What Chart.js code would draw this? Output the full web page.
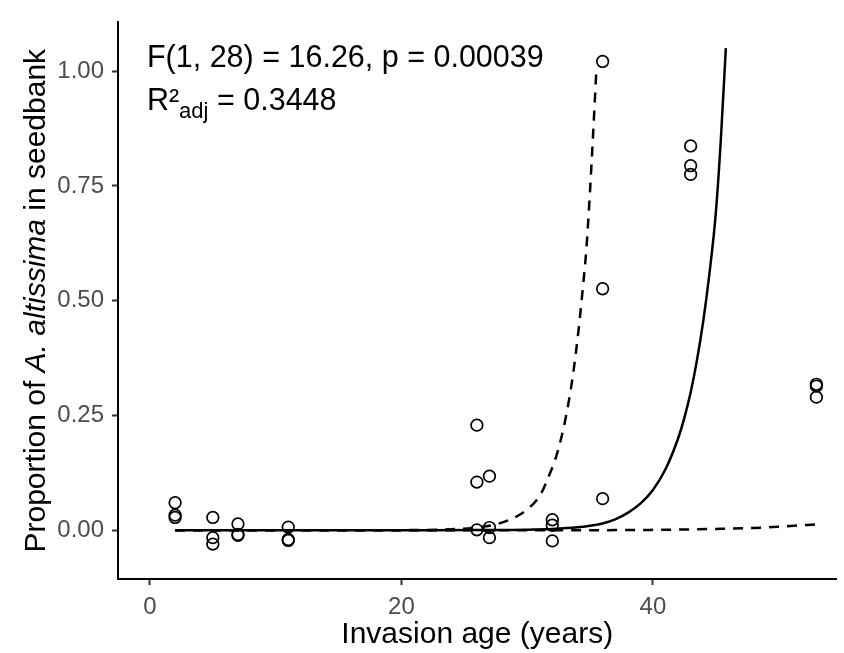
<!DOCTYPE html>
<html>
<head>
<meta charset="utf-8">
<script src="https://cdn.jsdelivr.net/npm/chart.js@4.4.1/dist/chart.umd.min.js"></script>
<style>
  body { margin: 0; background: #fff; }
</style>
</head>
<body>
<canvas id="chart" width="844" height="653"></canvas>
<script>
// observed seedbank proportions (3 plots per site age)
const ageX = [2, 2, 2, 5, 5, 5, 7, 7, 7, 11, 11, 11, 26, 26, 26, 27, 27, 27, 32, 32, 32, 36, 36, 36, 43, 43, 43, 53, 53, 53];
const propY = [0.060, 0.033, 0.028, 0.028, -0.016, -0.030, 0.014, -0.009, -0.011, 0.007, -0.020, -0.022,
               0.229, 0.105, 0.001, 0.118, 0.006, -0.016, 0.023, 0.011, -0.023, 1.021, 0.526, 0.069,
               0.837, 0.794, 0.775, 0.318, 0.314, 0.290];

// fitted curve
const fitX = [2, 10, 20, 26, 30, 32, 34, 35, 36, 37, 38, 39, 40, 41, 42, 42.5, 43, 43.5, 44, 44.5, 45, 45.4, 45.8];
const fitY = [0, 0, 0.0003, 0.0006, 0.0015, 0.003, 0.0065, 0.01, 0.015, 0.024, 0.038, 0.058, 0.088, 0.133, 0.2,
              0.245, 0.3, 0.37, 0.455, 0.56, 0.69, 0.85, 1.05];

// upper / lower bounds (dashed)
const upperX = [2, 10, 20, 24, 26, 27.5, 28.5, 29.4, 30.1, 30.7, 31.2, 31.6, 32.3, 32.7, 33.1, 33.6, 34.1, 34.4, 34.7, 35.0, 35.2, 35.5];
const upperY = [0, 0, 0.0004, 0.0025, 0.006, 0.013, 0.022, 0.034, 0.048, 0.064, 0.085, 0.11, 0.16, 0.2, 0.25, 0.33,
                0.44, 0.52, 0.61, 0.74, 0.84, 1.0];
const lowerX = [2, 30, 40, 45, 48, 50, 53];
const lowerY = [0, 0, 0.001, 0.003, 0.005, 0.008, 0.013];

const xTicks = [0, 20, 40];
const yTicks = [0, 0.25, 0.5, 0.75, 1];
const yTickLabels = ["0.00", "0.25", "0.50", "0.75", "1.00"];

const statLine = "F(1, 28) = 16.26, p = 0.00039";
const r2Value = " = 0.3448";
const xTitle = "Invasion age (years)";
const yTitleParts = [["Proportion of ", false], ["A. altissima", true], [" in seedbank", false]];

const FONT = '"Liberation Sans", Arial, Helvetica, sans-serif';

function toPoints(xs, ys) {
    return xs.map((x, i) => ({ x: x, y: ys[i] }));
}

// text that chart.js can't do by itself (sub/superscript, mixed italic)
const textPlugin = {
    id: 'labels',
    afterDraw(chart) {
        const ctx = chart.ctx;
        const area = chart.chartArea;
        const left = chart.scales.x.getPixelForValue(0) - 3;

        ctx.save();
        ctx.fillStyle = '#000';
        ctx.textAlign = 'left';
        ctx.textBaseline = 'alphabetic';

        ctx.font = `30.5px ${FONT}`;
        ctx.fillText(statLine, left, 67);
        ctx.fillText('R²', left, 110);
        let w = ctx.measureText('R²').width;
        ctx.font = `22px ${FONT}`;
        ctx.fillText('adj', left + w, 118);
        w += ctx.measureText('adj').width;
        ctx.font = `30.5px ${FONT}`;
        ctx.fillText(r2Value, left + w, 110);

        // x title
        ctx.font = `30px ${FONT}`;
        ctx.textAlign = 'center';
        ctx.fillText(xTitle, (area.left + area.right) / 2, 643);

        // y title, rotated
        ctx.textAlign = 'left';
        let total = 0;
        yTitleParts.forEach(p => {
            ctx.font = `${p[1] ? 'italic ' : ''}30px ${FONT}`;
            total += ctx.measureText(p[0]).width;
        });
        ctx.translate(45, (area.top + area.bottom) / 2);
        ctx.rotate(-Math.PI / 2);
        let x = -total / 2;
        yTitleParts.forEach(p => {
            ctx.font = `${p[1] ? 'italic ' : ''}30px ${FONT}`;
            ctx.fillText(p[0], x, 0);
            x += ctx.measureText(p[0]).width;
        });
        ctx.restore();
    }
};

const lineStyle = {
    showLine: true,
    borderColor: '#000',
    borderWidth: 2.5,
    pointRadius: 0,
    cubicInterpolationMode: 'monotone',
    fill: false
};

new Chart(document.getElementById('chart'), {
    type: 'scatter',
    data: {
        datasets: [
            {
                label: 'observed',
                data: toPoints(ageX, propY),
                pointRadius: 5.8,
                pointBorderWidth: 1.7,
                borderColor: '#000',
                backgroundColor: 'rgba(0,0,0,0)',
                order: 0
            },
            Object.assign({ label: 'fit', data: toPoints(fitX, fitY), order: 1 }, lineStyle),
            Object.assign({ label: 'upper', data: toPoints(upperX, upperY), borderDash: [10, 8], order: 2 }, lineStyle),
            Object.assign({ label: 'lower', data: toPoints(lowerX, lowerY), borderDash: [10, 8], order: 3 }, lineStyle)
        ]
    },
    options: {
        responsive: false,
        animation: false,
        layout: { padding: { top: 7, right: 6, left: 0, bottom: 0 } },
        plugins: { legend: { display: false }, tooltip: { enabled: false } },
        scales: {
            x: {
                type: 'linear',
                min: -2.54,
                max: 54.6,
                afterBuildTicks: s => { s.ticks = xTicks.map(v => ({ value: v })); },
                afterFit: s => { s.height = 74; },
                grid: { drawOnChartArea: false, tickLength: 6, tickColor: '#333', tickWidth: 2 },
                border: { display: true, color: '#000', width: 2 },
                ticks: { color: '#4d4d4d', font: { family: FONT, size: 24 }, padding: 8, maxRotation: 0 }
            },
            y: {
                type: 'linear',
                min: -0.106,
                max: 1.106,
                afterBuildTicks: s => { s.ticks = yTicks.map(v => ({ value: v })); },
                afterFit: s => { s.width = 118; },
                grid: { drawOnChartArea: false, tickLength: 6, tickColor: '#333', tickWidth: 2 },
                border: { display: true, color: '#000', width: 2 },
                ticks: {
                    color: '#4d4d4d',
                    font: { family: FONT, size: 24 },
                    padding: 8,
                    callback: v => yTickLabels[yTicks.indexOf(v)]
                }
            }
        }
    },
    plugins: [textPlugin]
});
</script>
</body>
</html>
